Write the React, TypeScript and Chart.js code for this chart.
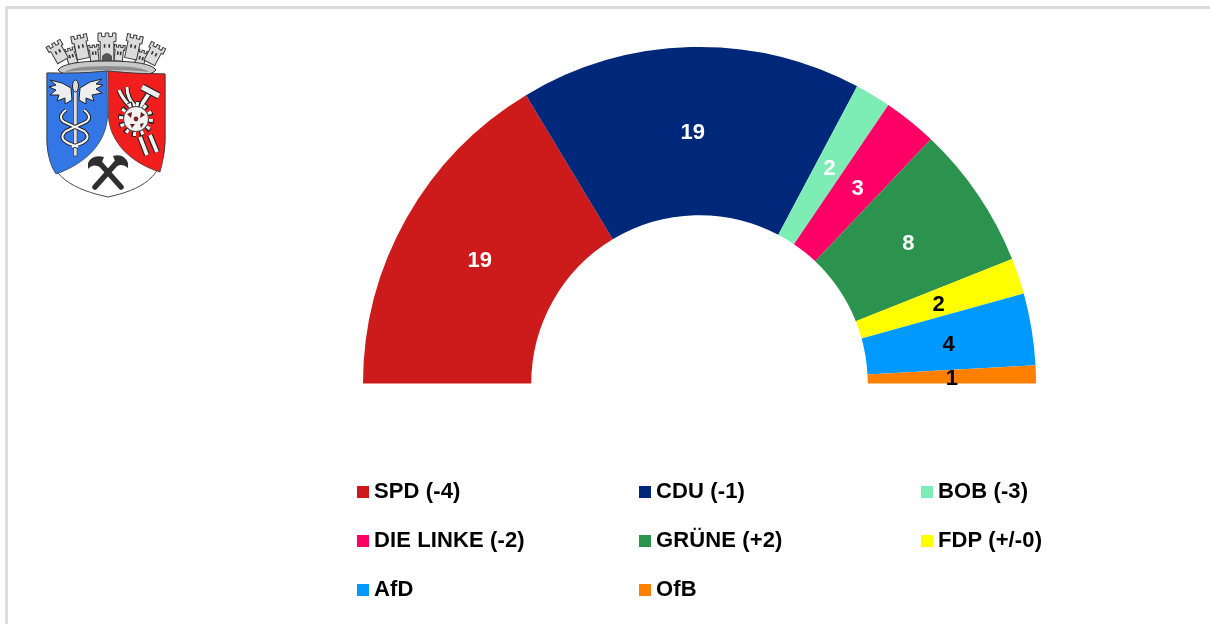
import React, { useEffect, useRef } from "react";
import { Chart, registerables } from "chart.js";

Chart.register(...registerables);

const parties = ["SPD", "CDU", "BOB", "DIE LINKE", "GRÜNE", "FDP", "AfD", "OfB"];
const legendLabels = ["SPD (-4)", "CDU (-1)", "BOB (-3)", "DIE LINKE (-2)", "GRÜNE (+2)", "FDP (+/-0)", "AfD", "OfB"];
const seats = [19, 19, 2, 3, 8, 2, 4, 1];
const colors = ["#CD1A1A", "#00287A", "#7DEDB5", "#FF0066", "#2B934E", "#FFFF00", "#0099FF", "#FF8000"];
const labelColors = ["#fff", "#fff", "#fff", "#fff", "#fff", "#000", "#000", "#000"];

const FONT = '"Liberation Sans", Arial, sans-serif';

const sliceLabels = {
  id: "sliceLabels",
  afterDatasetsDraw(chart: any) {
    const { ctx } = chart;
    const meta = chart.getDatasetMeta(0);
    ctx.save();
    ctx.font = `bold 22px ${FONT}`;
    ctx.textAlign = "center";
    ctx.textBaseline = "middle";
    meta.data.forEach((arc: any, i: number) => {
      const p = arc.getCenterPoint();
      ctx.fillStyle = labelColors[i];
      ctx.fillText(String(seats[i]), p.x, p.y + 2);
    });
    ctx.restore();
  },
};

function Tower({ x, y, r, w, h }: { x: number; y: number; r: number; w: number; h: number }) {
  const m = w / 5;
  return (
    <g transform={`rotate(${r} ${x} ${y})`}>
      <path
        d={`M${x - w / 2} ${y - h / 2} h${m} v${m} h${m} v${-m} h${m} v${m} h${m} v${-m} h${m} v${h * 0.3} h${-m * 0.6} v${h * 0.7} h${-w + m * 1.2} v${-h * 0.7} h${-m * 0.6} Z`}
        fill="#dcdcdc"
        stroke="#3a3a3a"
        strokeWidth="1"
      />
      <rect x={x - m * 0.9} y={y - h * 0.1} width="1.6" height="3.5" fill="#333" />
      <rect x={x + m * 0.4} y={y - h * 0.1} width="1.6" height="3.5" fill="#333" />
    </g>
  );
}

function Emblem() {
  return (
    <svg
      width="220"
      height="220"
      viewBox="0 0 220 220"
      style={{ position: "absolute", left: 0, top: 0, filter: "blur(0.45px)" }}
    >
      {/* crown */}
      <Tower x={71} y={56} r={-18} w={12} h={16} />
      <Tower x={94} y={53} r={-6} w={11} h={16} />
      <Tower x={119} y={53} r={6} w={11} h={16} />
      <Tower x={141} y={58} r={18} w={12} h={16} />
      <Tower x={58} y={52} r={-30} w={16} h={20} />
      <Tower x={81} y={47} r={-12} w={16} h={24} />
      <Tower x={107} y={47} r={0} w={18} h={28} />
      <Tower x={133} y={47} r={12} w={16} h={24} />
      <Tower x={154} y={54} r={28} w={16} h={20} />
      <path d="M102 62 h10 v-6 q-5 -6 -10 0 Z" fill="#555" />
      <path d="M58 70 Q64 61 107 61 Q150 61 156 70 Q150 78 107 76 Q64 78 58 70 Z" fill="#c9c9c9" stroke="#333" strokeWidth="1" />
      <path d="M65 72 Q72 66 107 66 Q142 66 149 72 Q135 70 107 70 Q79 70 65 72 Z" fill="#8e8e8e" />
      {/* shield */}
      <path
        d="M47 73 Q80 74 107 71 Q134 74 165 74 L165 140 C165 178 140 190 108 197 C76 190 47 178 47 140 Z"
        fill="#fff"
        stroke="#4a4a4a"
        strokeWidth="1"
      />
      <path
        d="M47 73 Q80 74 107 71 L107.5 117 C106 140 90 162 56 174 C50 165 47.5 155 47 140 Z"
        fill="#3377E6"
        stroke="#333"
        strokeWidth="0.7"
      />
      <path
        d="M108 71 Q134 74 165 74 L165 140 C164.5 152 163 162 160 172 C128 162 110 140 108.5 117 Z"
        fill="#F21D1D"
        stroke="#333"
        strokeWidth="0.7"
      />
      {/* eagle wings, staff and snakes */}
      <path
        d="M72 100 L65 104 L65 98 L57 101 L59 95 L50 95 L56 90 L49 87 L56 85 L50 80 L62 83 L71 88 Z"
        fill="#eeeeee"
        stroke="#222"
        strokeWidth="1"
      />
      <path
        d="M79 100 L86 104 L86 98 L94 101 L92 95 L102 93 L96 89 L103 85 L96 84 L102 79 L90 82 L80 88 Z"
        fill="#eeeeee"
        stroke="#222"
        strokeWidth="1"
      />
      <rect x="73.5" y="90" width="3.6" height="66" fill="#e0e0e0" stroke="#333" strokeWidth="0.7" />
      <ellipse cx="75.5" cy="86" rx="3" ry="6" fill="#ddd" stroke="#222" strokeWidth="1" />
      <path
        d="M66 110 Q57 117 64 122 L84 131 Q92 138 82 143 L72 147 M84 110 Q93 117 86 122 L66 131 Q58 138 68 143 L78 147"
        fill="none"
        stroke="#222"
        strokeWidth="4"
      />
      <path
        d="M66 110 Q57 117 64 122 L84 131 Q92 138 82 143 L72 147 M84 110 Q93 117 86 122 L66 131 Q58 138 68 143 L78 147"
        fill="none"
        stroke="#f4f4f4"
        strokeWidth="2"
      />
      {/* tools and gear */}
      <path d="M119 90 Q122 98 130 106 M127 87 Q127 98 135 106" fill="none" stroke="#222" strokeWidth="5" />
      <path d="M119 90 Q122 98 130 106 M127 87 Q127 98 135 106" fill="none" stroke="#f2f2f2" strokeWidth="3" />
      <path d="M140 137 L147 155 M150 135 L157 152" stroke="#222" strokeWidth="6" />
      <path d="M140 137 L147 155 M150 135 L157 152" stroke="#f2f2f2" strokeWidth="3.6" />
      <path d="M150 92 L134 116" stroke="#222" strokeWidth="6" />
      <path d="M150 92 L134 116" stroke="#f2f2f2" strokeWidth="3.6" />
      <path d="M142 87 L159 96" stroke="#222" strokeWidth="7.5" />
      <path d="M142 87 L159 96" stroke="#eeeeee" strokeWidth="5" />
      <circle cx="136" cy="119" r="15" fill="none" stroke="#222" strokeWidth="6" strokeDasharray="4.4 3.4" />
      <circle cx="136" cy="119" r="15" fill="none" stroke="#f2f2f2" strokeWidth="4" strokeDasharray="3 4.8" />
      <circle cx="136" cy="119" r="12.5" fill="#f2f2f2" stroke="#333" strokeWidth="0.8" />
      <circle cx="136" cy="119" r="2.4" fill="#8a1f1f" />
      <path d="M127 114 L132 112 L131 118 Z M141 112 L145 115 L140 118 Z M130 124 L135 124 L132 128 Z M140 124 L144 123 L141 128 Z" fill="#6a1a1a" />
      {/* hammers */}
      <path d="M97 160 L121 187 M119 160 L95 187" stroke="#2f2f2f" strokeWidth="5.5" strokeLinecap="round" />
      <path d="M88 163 Q92 154 104 157 L100 167 Q93 163 88 169 Z" fill="#2f2f2f" />
      <path d="M128 163 Q124 153 113 156 L117 166 Q123 163 128 168 Z" fill="#2f2f2f" />
    </svg>
  );
}

export default function App() {
  const ref = useRef<HTMLCanvasElement>(null);
  useEffect(() => {
    document.body.style.margin = "0";
    const chart = new Chart(ref.current!, {
      type: "doughnut",
      data: {
        labels: parties,
        datasets: [{ data: seats, backgroundColor: colors, borderWidth: 0 }],
      },
      options: {
        responsive: false,
        animation: false,
        rotation: -90,
        circumference: 180,
        cutout: "50%",
        layout: { padding: { left: 363, right: 174, top: 47, bottom: 240.5 } },
        plugins: { legend: { display: false }, tooltip: { enabled: false }, title: { display: false } },
      },
      plugins: [sliceLabels],
    } as any);
    return () => chart.destroy();
  }, []);

  return (
    <div style={{ position: "relative", width: 1210, height: 624, overflow: "hidden", background: "#fff" }}>
      <div
        style={{
          position: "absolute",
          left: 5,
          top: 6,
          width: 1210,
          height: 624,
          borderLeft: "3px solid #ddd",
          borderTop: "3px solid #ddd",
          boxSizing: "border-box",
        }}
      />
      <canvas ref={ref} width={1210} height={624} style={{ position: "absolute", left: 0, top: 0 }} />
      <Emblem />
      {legendLabels.map((label, i) => {
        const col = i % 3;
        const row = Math.floor(i / 3);
        return (
          <div
            key={label}
            style={{
              position: "absolute",
              left: 357 + col * 282,
              top: 478 + row * 49,
              height: 26,
              whiteSpace: "nowrap",
              font: `bold 22px/26px ${FONT}`,
              letterSpacing: "0.12px",
              color: "#000",
            }}
          >
            <span
              style={{
                display: "inline-block",
                width: 12,
                height: 12,
                background: colors[i],
                marginRight: 5,
                verticalAlign: "0.5px",
              }}
            />
            {label}
          </div>
        );
      })}
    </div>
  );
}
